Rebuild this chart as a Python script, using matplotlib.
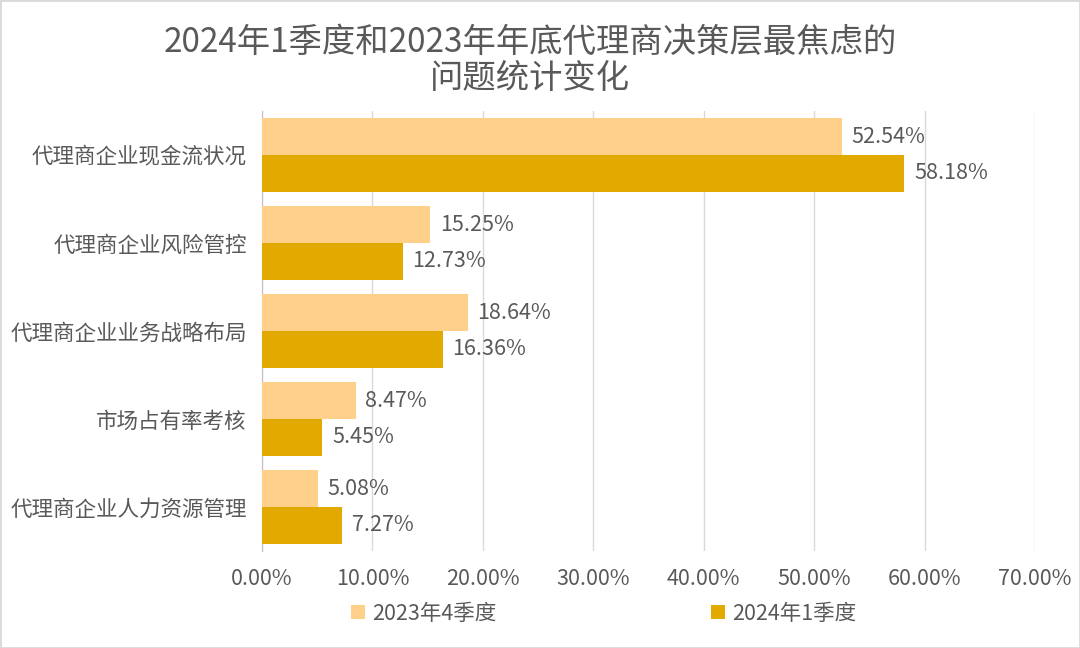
import matplotlib
matplotlib.use('Agg')
import matplotlib.pyplot as plt
import numpy as np
from matplotlib.ticker import FuncFormatter
from matplotlib.patches import Rectangle

plt.rcParams['font.family'] = ['Noto Sans CJK SC', 'DejaVu Sans']

# 数据
categories = ['代理商企业现金流状况', '代理商企业风险管控', '代理商企业业务战略布局',
              '市场占有率考核', '代理商企业人力资源管理']
q4_2023 = [52.54, 15.25, 18.64, 8.47, 5.08]
q1_2024 = [58.18, 12.73, 16.36, 5.45, 7.27]
series_names = ['2023年4季度', '2024年1季度']
title = '2024年1季度和2023年年底代理商决策层最焦虑的\n问题统计变化'

c_light = '#FFD08A'
c_dark = '#E2A900'
txt = '#595959'
fs = 15.5

fig = plt.figure(figsize=(10.8, 6.48), dpi=100)
ax = fig.add_axes([0.2426, 0.1497, 0.7157, 0.679])

y = np.arange(len(categories))
h = 0.42
b1 = ax.barh(y - h / 2, q4_2023, height=h, color=c_light, label=series_names[0], zorder=3)
b2 = ax.barh(y + h / 2, q1_2024, height=h, color=c_dark, label=series_names[1], zorder=3)

for bars, vals in [(b1, q4_2023), (b2, q1_2024)]:
    for r, v in zip(bars, vals):
        ax.annotate('%.2f%%' % v, (r.get_width(), r.get_y() + r.get_height() / 2),
                    xytext=(7, 0), textcoords='offset points', va='center', ha='left',
                    fontsize=fs, color=txt)

ax.set_xlim(0, 70)
ax.set_ylim(len(categories) - 0.5, -0.5)
ax.set_xticks(np.arange(0, 71, 10))
ax.xaxis.set_major_formatter(FuncFormatter(lambda v, p: '%.2f%%' % v))
ax.set_yticks(y)
ax.set_yticklabels(categories)
ax.tick_params(axis='both', length=0, labelsize=fs, labelcolor=txt)
ax.tick_params(axis='x', pad=12)
ax.tick_params(axis='y', pad=11)
ax.grid(axis='x', color='#D9D9D9', linewidth=1, zorder=0)
for s in ['top', 'right', 'bottom']:
    ax.spines[s].set_visible(False)
ax.spines['left'].set_color('#BFBFBF')

fig.suptitle(title, x=0.491, y=0.962, fontsize=24, color=txt, linespacing=1.05)

fig.legend(handles=[b1, b2], loc='center', bbox_to_anchor=(0.559, 0.053), ncol=2,
           frameon=False, fontsize=fs, labelcolor=txt, handlelength=0.65,
           handleheight=0.65, handletextpad=0.3, columnspacing=10)

fig.patches.append(Rectangle((0, 0), 1, 1, transform=fig.transFigure, fill=False,
                             edgecolor='#D9D9D9', linewidth=2))

fig.savefig('out.png', dpi=100)
